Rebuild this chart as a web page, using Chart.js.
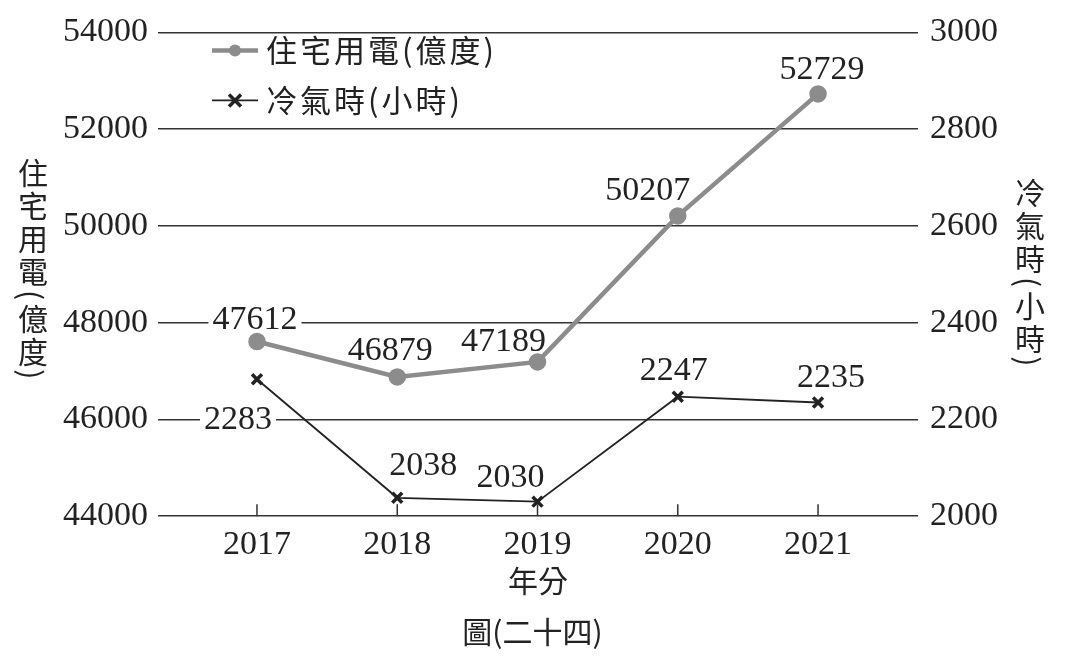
<!DOCTYPE html>
<html>
<head>
<meta charset="utf-8">
<script src="https://cdn.jsdelivr.net/npm/chart.js@4/dist/chart.umd.min.js"></script>
<style>
  body { margin: 0; background: #fff; }
  #wrap { position: relative; width: 1065px; height: 672px; }
  .vtitle {
    position: absolute;
    writing-mode: vertical-rl;
    font-family: 'Noto Sans CJK TC', serif;
    font-size: 30px;
    line-height: 1;
    color: #222;
    letter-spacing: 3px;
  }
</style>
</head>
<body>
<div id="wrap">
  <canvas id="chart"></canvas>
  <div class="vtitle" style="left:18px; top:158px;">住宅用電(億度)</div>
  <div class="vtitle" style="left:1015px; top:178px;">冷氣時(小時)</div>
</div>
<script>
// ---- données ----
const years = [2017, 2018, 2019, 2020, 2021];
const electricity = [47612, 46879, 47189, 50207, 52729];   // 億度
const acHours = [2283, 2038, 2030, 2247, 2235];            // 小時
const seriesNames = ['住宅用電(億度)', '冷氣時(小時)'];

// décalage des étiquettes (px) par rapport au point
const elecLabelShift = [[-2, -22], [-7, -27], [-34, -21], [-30, -26], [4, -25]];
const acLabelShift = [[-19, 40], [26, -33], [-27, -25], [-4, -27], [13, -25]];

const numFont = "'Liberation Serif', 'Noto Sans CJK TC', serif";
const cjkFont = "'Noto Sans CJK TC', 'Liberation Serif', serif";
const grey = '#8c8c8c';
const ink = '#222';

// ---- étiquettes de valeurs (fond blanc, sous les courbes) ----
const valueLabels = {
  id: 'valueLabels',
  beforeDatasetsDraw(chart) {
    const ctx = chart.ctx;
    ctx.save();
    ctx.font = '34px ' + numFont;
    ctx.textAlign = 'center';
    ctx.textBaseline = 'middle';
    const shifts = [elecLabelShift, acLabelShift];
    chart.data.datasets.forEach((ds, i) => {
      chart.getDatasetMeta(i).data.forEach((pt, j) => {
        const txt = String(ds.data[j].y);
        const x = pt.x + shifts[i][j][0];
        const y = pt.y + shifts[i][j][1];
        const w = ctx.measureText(txt).width + 8;
        ctx.fillStyle = '#fff';
        ctx.fillRect(x - w / 2, y - 14, w, 28);
        ctx.fillStyle = ink;
        ctx.fillText(txt, x, y + 1);
      });
    });
    ctx.restore();
  }
};

// ---- petites graduations sur l'axe des x (vers le haut) ----
const xTicksUp = {
  id: 'xTicksUp',
  afterDatasetsDraw(chart) {
    const ctx = chart.ctx;
    const xs = chart.scales.x;
    const bottom = chart.chartArea.bottom;
    ctx.save();
    ctx.strokeStyle = '#333';
    ctx.lineWidth = 1.5;
    years.forEach(yr => {
      const px = xs.getPixelForValue(yr);
      ctx.beginPath();
      ctx.moveTo(px, bottom - 12);
      ctx.lineTo(px, bottom);
      ctx.stroke();
    });
    ctx.restore();
  }
};

// ---- légende dans la zone du graphique ----
const innerLegend = {
  id: 'innerLegend',
  afterDraw(chart) {
    const ctx = chart.ctx;
    const left = chart.chartArea.left + 49;
    const top = chart.chartArea.top;
    const rows = [top + 18, top + 68];
    ctx.save();
    chart.data.datasets.forEach((ds, i) => {
      const y = rows[i];
      ctx.strokeStyle = ds.borderColor;
      ctx.lineWidth = i === 0 ? 4.5 : 1.8;
      ctx.beginPath();
      ctx.moveTo(left, y);
      ctx.lineTo(left + 46, y);
      ctx.stroke();
      const cx = left + 23;
      if (i === 0) {
        ctx.fillStyle = ds.pointBackgroundColor;
        ctx.beginPath();
        ctx.arc(cx, y, 6, 0, Math.PI * 2);
        ctx.fill();
      } else {
        ctx.lineWidth = 3.5;
        ctx.beginPath();
        ctx.moveTo(cx - 6, y - 6); ctx.lineTo(cx + 6, y + 6);
        ctx.moveTo(cx + 6, y - 6); ctx.lineTo(cx - 6, y + 6);
        ctx.stroke();
      }
      ctx.fillStyle = ink;
      ctx.font = '31px ' + cjkFont;
      ctx.letterSpacing = '3px';
      ctx.textAlign = 'left';
      ctx.textBaseline = 'middle';
      ctx.fillText(ds.label, left + 54, y);
      ctx.letterSpacing = '0px';
    });
    ctx.restore();
  }
};

new Chart(document.getElementById('chart'), {
  type: 'line',
  data: {
    datasets: [
      {
        label: seriesNames[0],
        data: years.map((yr, i) => ({ x: yr, y: electricity[i] })),
        yAxisID: 'y',
        borderColor: grey,
        backgroundColor: grey,
        pointBackgroundColor: grey,
        pointBorderColor: grey,
        borderWidth: 4.5,
        pointRadius: 6.5,
        tension: 0
      },
      {
        label: seriesNames[1],
        data: years.map((yr, i) => ({ x: yr, y: acHours[i] })),
        yAxisID: 'y1',
        borderColor: ink,
        backgroundColor: ink,
        pointBackgroundColor: ink,
        pointBorderColor: ink,
        pointStyle: 'crossRot',
        pointRadius: 7,
        pointBorderWidth: 3.5,
        borderWidth: 1.8,
        tension: 0
      }
    ]
  },
  options: {
    responsive: true,
    maintainAspectRatio: false,
    animation: false,
    layout: { padding: { top: 14, left: 0, right: 0, bottom: 22 } },
    plugins: {
      legend: { display: false },
      tooltip: { enabled: false },
      title: {
        display: true,
        position: 'bottom',
        text: '圖(二十四)',
        color: ink,
        font: { family: cjkFont, size: 30, weight: 'normal' },
        padding: { top: 17, bottom: 0 }
      }
    },
    scales: {
      x: {
        type: 'linear',
        min: 2016.33,
        max: 2021.677,
        afterBuildTicks: s => { s.ticks = years.map(v => ({ value: v })); },
        ticks: {
          callback: v => String(v),
          color: ink,
          font: { family: numFont, size: 34 },
          padding: 0,
          maxRotation: 0
        },
        grid: { display: false },
        border: { display: false },
        title: {
          display: true,
          text: '年分',
          color: ink,
          font: { family: cjkFont, size: 30, lineHeight: 1.067 },
          padding: { top: 0, bottom: 0 }
        }
      },
      y: {
        position: 'left',
        min: 44000,
        max: 54000,
        afterFit: s => { s.width = 163; },
        ticks: {
          stepSize: 2000,
          callback: v => String(v),
          color: ink,
          font: { family: numFont, size: 34 },
          padding: 10
        },
        grid: { color: '#333', lineWidth: 1.5, tickLength: 5, tickColor: '#333' },
        border: { display: false }
      },
      y1: {
        position: 'right',
        min: 2000,
        max: 3000,
        afterFit: s => { s.width = 152; },
        ticks: {
          stepSize: 200,
          callback: v => String(v),
          color: ink,
          font: { family: numFont, size: 34 },
          padding: 12
        },
        grid: { drawOnChartArea: false, color: '#333', lineWidth: 1.5, tickLength: 5, tickColor: '#333' },
        border: { display: false }
      }
    }
  },
  plugins: [valueLabels, xTicksUp, innerLegend]
});
</script>
</body>
</html>
